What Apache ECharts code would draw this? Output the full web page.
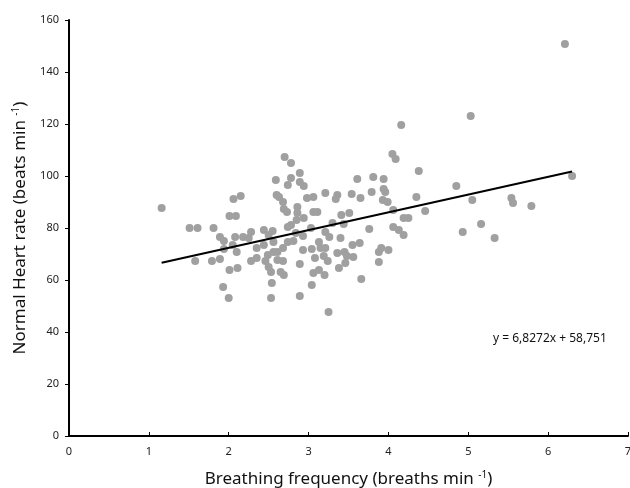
<!DOCTYPE html>
<html>
<head>
<meta charset="utf-8">
<script src="https://cdn.jsdelivr.net/npm/echarts@6/dist/echarts.min.js"></script>
<style>html,body{margin:0;padding:0;background:#fff}#c{width:630px;height:488px}</style>
</head>
<body>
<div id="c"></div>
<script>
// Breathing frequency (breaths/min)
const breathing = [1.16,1.51,1.61,1.81,1.58,1.79,1.89,1.94,1.89,2.01,2.09,2.06,2.15,2.08,2.18,2.25,2.01,2.11,2.05,2.10,1.93,2.00,2.28,2.35,2.35,2.28,2.44,2.55,2.44,2.49,2.46,2.56,2.61,2.68,2.50,2.53,2.65,2.69,2.54,2.53,2.61,2.68,2.50,2.56,2.74,2.70,2.59,2.60,2.63,2.68,2.69,2.73,2.74,2.74,2.78,2.89,2.78,2.89,2.94,2.98,3.06,3.21,3.36,3.34,3.54,3.65,3.61,3.81,3.94,3.79,3.94,3.96,3.93,3.99,4.05,4.09,4.38,4.35,4.06,4.19,4.25,4.46,2.86,2.86,2.85,2.94,3.06,3.11,3.41,3.51,3.30,3.44,3.76,4.06,4.13,3.03,2.78,3.21,4.85,5.05,5.54,5.56,5.79,6.30,5.16,4.93,5.33,5.03,4.16,6.21,2.81,2.93,3.04,3.13,3.15,3.21,3.26,3.40,3.08,2.89,3.19,3.24,3.36,3.45,3.48,3.55,3.64,3.56,3.46,3.38,3.06,3.13,3.20,3.88,3.91,4.00,3.88,3.66,3.04,2.89,3.25,4.19,2.84,2.93,1.94];
// Normal heart rate (beats/min)
const heartRate = [87.7,80.0,80.0,80.0,67.3,67.3,68.1,75.0,76.5,84.6,84.6,91.2,92.3,76.5,76.5,76.2,63.8,64.6,73.5,70.8,57.3,53.1,67.3,68.5,72.3,78.5,79.2,78.8,73.5,69.6,67.3,70.8,70.8,72.3,65.0,63.1,63.1,61.9,58.8,53.1,67.7,67.3,77.3,74.6,74.6,107.3,98.5,92.7,91.9,90.0,87.3,86.2,80.4,96.5,105.0,101.2,99.2,97.7,96.2,91.5,91.9,93.5,92.7,91.2,93.1,91.5,98.8,99.6,98.8,93.8,95.0,93.8,90.8,90.0,108.5,106.5,101.9,91.9,86.9,83.8,83.8,86.5,88.1,85.8,83.1,83.8,86.2,86.2,85.0,85.8,81.9,81.5,79.6,80.4,79.2,80.0,81.2,78.5,96.2,90.8,91.5,89.6,88.5,100.0,81.5,78.5,76.2,123.1,119.6,150.8,75.0,71.5,71.9,74.6,72.3,72.3,76.5,76.2,68.5,66.2,69.2,67.3,70.4,70.8,69.2,73.5,74.2,68.8,66.5,64.6,62.7,63.8,61.9,70.8,72.3,71.5,66.9,60.4,58.1,53.8,47.7,77.3,78.1,76.9,71.9];
// Linear trend line end points (y = 6,8272x + 58,751)
const trendX = [1.16, 6.30];
const trendY = [66.67, 101.76];
const equationText = 'y = 6,8272x + 58,751';
const xTicks = [0, 7, 1];
const yTicks = [0, 160, 20];

const chart = echarts.init(document.getElementById('c'), null, {renderer: 'canvas'});
const font = 'Noto Sans';
chart.setOption({
  animation: false,
  backgroundColor: '#fff',
  grid: {left: 69, right: 2, top: 20, bottom: 52, containLabel: false, outerBoundsMode: 'none'},
  xAxis: {
    type: 'value', min: xTicks[0], max: xTicks[1], interval: xTicks[2],
    splitLine: {show: false},
    axisLine: {lineStyle: {color: '#000', width: 2}},
    axisTick: {inside: true, length: 4, lineStyle: {color: '#000'}},
    axisLabel: {color: '#222', fontSize: 11, fontFamily: font, margin: 10},
    name: '{a|Breathing frequency (breaths min }{s|-1}{a|)}',
    nameLocation: 'middle', nameGap: 34,
    nameTextStyle: {rich: {a: {fontSize: 17, fontFamily: font, color: '#111'}, s: {fontSize: 10, fontFamily: font, color: '#111', padding: [0,0,8,0]}}}
  },
  yAxis: {
    type: 'value', min: yTicks[0], max: yTicks[1], interval: yTicks[2],
    splitLine: {show: false},
    axisLine: {show: true, lineStyle: {color: '#000', width: 2}},
    axisTick: {show: true, length: 4, lineStyle: {color: '#000'}},
    axisLabel: {color: '#222', fontSize: 11, fontFamily: font, margin: 10},
    name: '{a|Normal Heart rate (beats min }{s|-1}{a|)}',
    nameLocation: 'middle', nameGap: 40, nameRotate: 90,
    nameTextStyle: {rich: {a: {fontSize: 17, fontFamily: font, color: '#111'}, s: {fontSize: 10, fontFamily: font, color: '#111', padding: [0,0,8,0]}}}
  },
  series: [
    {
      type: 'scatter',
      data: breathing.map((x, i) => [x, heartRate[i]]),
      symbolSize: 8,
      itemStyle: {color: '#a0a0a0', opacity: 1},
      z: 2
    },
    {
      type: 'line',
      data: trendX.map((x, i) => [x, trendY[i]]),
      showSymbol: false, symbol: 'none',
      lineStyle: {color: '#000', width: 2},
      z: 3
    }
  ],
  graphic: [{
    type: 'text', left: 493, top: 333,
    style: {text: equationText, fontSize: 12, fontFamily: font, fill: '#111'}
  }]
});
</script>
</body>
</html>
